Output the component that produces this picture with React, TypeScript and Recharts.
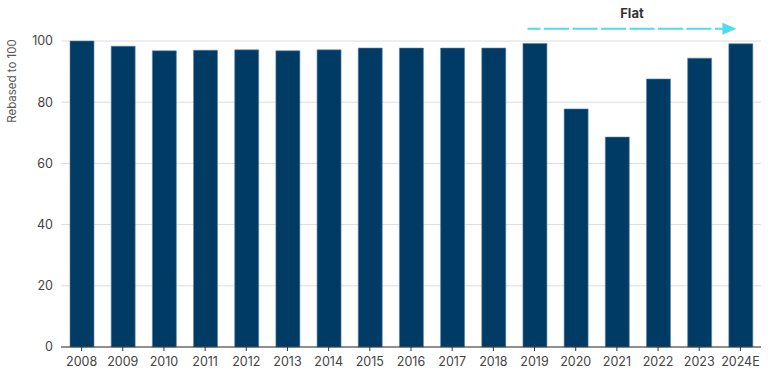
import React from 'react';
import { BarChart, Bar, XAxis, YAxis, CartesianGrid, ReferenceLine } from 'recharts';

// Index rebased to 100 (2008 = 100)
const years = ['2008', '2009', '2010', '2011', '2012', '2013', '2014', '2015', '2016', '2017', '2018', '2019', '2020', '2021', '2022', '2023', '2024E'];
const values = [100, 98.3, 96.8, 97.0, 97.1, 96.8, 97.1, 97.7, 97.7, 97.7, 97.7, 99.2, 77.8, 68.6, 87.6, 94.4, 99.1];
const yTicks = [0, 20, 40, 60, 80, 100];

// "Flat" arrow spans 2019 -> 2024E, drawn just above the top of the axis
const flatFrom = '2019';
const flatTo = '2024E';
const flatLevel = 104;
const flatLabel = 'Flat';

const data = years.map((year, i) => ({ year, value: values[i] }));

const FONT = 'Inter, "Noto Sans", sans-serif';

// Dashed cyan arrow with the label above it
const FlatArrow = (props: any) => {
  const { x1, y1, x2 } = props;
  const start = x1 - 7;
  const tip = x2 - 4;
  const headLen = 14;
  return (
    <g>
      <line
        x1={start}
        y1={y1}
        x2={tip - headLen + 1}
        y2={y1}
        stroke="#4fdbea"
        strokeWidth={2}
        strokeDasharray="25 3.5"
        strokeDashoffset={12}
      />
      <polygon points={`${tip},${y1} ${tip - headLen},${y1 - 6} ${tip - headLen},${y1 + 6}`} fill="#4fdbea" />
      <text
        x={(start + tip) / 2}
        y={y1 - 14}
        textAnchor="middle"
        dominantBaseline="middle"
        fontFamily={FONT}
        fontSize={13}
        fontWeight={700}
        fill="#333"
      >
        {flatLabel}
      </text>
    </g>
  );
};

export default function App() {
  return (
    <div style={{ position: 'absolute', left: 0, top: 0, width: 770, height: 373, background: '#fff' }}>
      <BarChart width={770} height={373} data={data} margin={{ top: 41, right: 9, left: 0, bottom: 0 }} barSize={24}>
        <CartesianGrid vertical={false} stroke="#dcdcdc" />
        <XAxis
          dataKey="year"
          height={26}
          interval={0}
          tickSize={4}
          tickMargin={6}
          stroke="#333"
          tick={{ fill: '#444', fontSize: 12.5, fontFamily: FONT }}
        />
        <YAxis
          width={61}
          domain={[0, 100]}
          ticks={yTicks}
          axisLine={false}
          tickLine={false}
          tick={{ fill: '#444', fontSize: 12.5, fontFamily: FONT }}
          label={{
            content: () => (
              <text
                x={13}
                y={81}
                transform="rotate(-90 13 81)"
                textAnchor="middle"
                dominantBaseline="middle"
                fontFamily={FONT}
                fontSize={11.5}
                fill="#555"
              >
                Rebased to 100
              </text>
            )
          }}
        />
        <Bar dataKey="value" fill="#003b65" stroke="#5d86aa" strokeWidth={0.6} isAnimationActive={false} />
        <ReferenceLine
          segment={[
            { x: flatFrom, y: flatLevel },
            { x: flatTo, y: flatLevel }
          ]}
          ifOverflow="visible"
          shape={FlatArrow}
        />
      </BarChart>
    </div>
  );
}
